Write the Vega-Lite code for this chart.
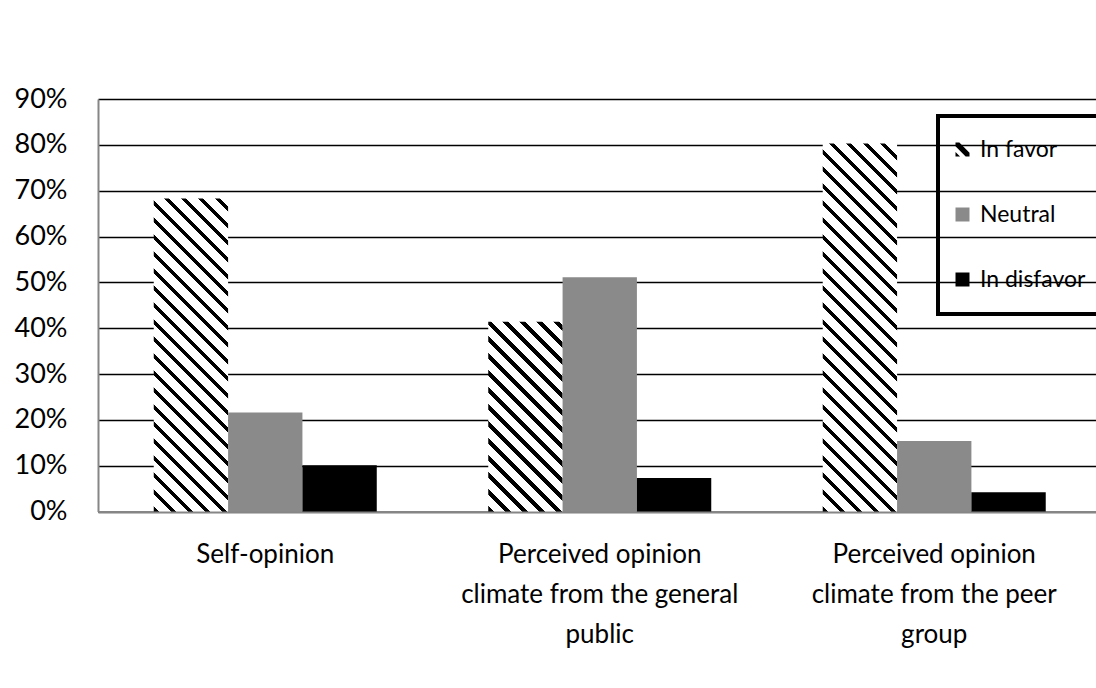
{
  "$schema": "https://vega.github.io/schema/vega-lite/v6.json",
  "autosize": {"type": "none"},
  "padding": {"left": 98, "top": 99, "right": 0, "bottom": 177},
  "width": 1003.5,
  "height": 412.5,
  "background": "white",
  "config": {"view": {"stroke": null}, "font": "Lato"},
  "data": {"values": [
    {"group": "Self-opinion", "opinion": "In favor", "share": 0.683},
    {"group": "Self-opinion", "opinion": "Neutral", "share": 0.216},
    {"group": "Self-opinion", "opinion": "In disfavor", "share": 0.101},
    {"group": "Perceived opinion climate from the general public", "opinion": "In favor", "share": 0.414},
    {"group": "Perceived opinion climate from the general public", "opinion": "Neutral", "share": 0.511},
    {"group": "Perceived opinion climate from the general public", "opinion": "In disfavor", "share": 0.073},
    {"group": "Perceived opinion climate from the peer group", "opinion": "In favor", "share": 0.803},
    {"group": "Perceived opinion climate from the peer group", "opinion": "Neutral", "share": 0.154},
    {"group": "Perceived opinion climate from the peer group", "opinion": "In disfavor", "share": 0.042}
  ]},
  "mark": {"type": "bar"},
  "encoding": {
    "x": {
      "field": "group", "type": "nominal",
      "sort": ["Self-opinion", "Perceived opinion climate from the general public", "Perceived opinion climate from the peer group"],
      "scale": {"paddingInner": 0.3333, "paddingOuter": 0.1667},
      "axis": {
        "title": null, "labelAngle": 0, "labelFontSize": 26, "labelColor": "#000",
        "labelLineHeight": 40, "labelPadding": 30, "labelLimit": 500, "ticks": false,
        "domainColor": "#868686", "domainWidth": 2,
        "labelExpr": "datum.value === 'Self-opinion' ? 'Self-opinion' : datum.value === 'Perceived opinion climate from the general public' ? ['Perceived opinion', 'climate from the general', 'public'] : ['Perceived opinion', 'climate from the peer', 'group']"
      }
    },
    "xOffset": {
      "field": "opinion", "type": "nominal",
      "sort": ["In favor", "Neutral", "In disfavor"],
      "scale": {"paddingInner": 0, "paddingOuter": 0}
    },
    "y": {
      "field": "share", "type": "quantitative",
      "scale": {"domain": [0, 0.9], "nice": false},
      "axis": {
        "title": null, "values": [0, 0.1, 0.2, 0.3, 0.4, 0.5, 0.6, 0.7, 0.8, 0.9],
        "format": ".0%", "labelFontSize": 27, "labelColor": "#000", "labelPadding": 31,
        "ticks": false, "domainColor": "#868686", "domainWidth": 2,
        "grid": true, "gridColor": "#000", "gridWidth": 1.6
      }
    },
    "fill": {
      "field": "opinion", "type": "nominal",
      "scale": {"domain": ["In favor", "Neutral", "In disfavor"], "range": ["#000000", "#8a8a8a", "#000000"]},
      "legend": {
        "title": null, "orient": "none", "legendX": 840, "legendY": 17,
        "padding": 22, "rowPadding": 41, "labelFontSize": 23, "labelColor": "#000",
        "labelOffset": 6, "symbolOffset": -9, "labelLimit": 300, "symbolType": "square", "symbolSize": 196,
        "symbolStrokeWidth": 0, "strokeColor": "#000",
        "encode": {
          "legend": {"update": {"stroke": {"value": "#000"}, "strokeWidth": {"value": 4}}},
          "symbols": {"update": {"shape": [
            {"test": "datum.value === 'In favor'", "value": "M-1,-1L-0.45,-1L1,0.45L1,1L0.45,1L-1,-0.45Z M-1,0.35L-0.35,1L-1,1Z"},
            {"value": "square"}
          ]}}
        }
      },
      "condition": [
        {"test": "datum.opinion === 'In favor' && datum.group === 'Self-opinion'",
         "value": {"gradient": "linear", "x1": 0, "y1": 1, "x2": 0.2814, "y2": -0.1822, "stops": [
          {"offset": 0, "color": "#000"}, {"offset": 0.0139, "color": "#000"}, {"offset": 0.0139, "color": "#fff"},
          {"offset": 0.0435, "color": "#fff"}, {"offset": 0.0435, "color": "#000"}, {"offset": 0.0574, "color": "#000"}, {"offset": 0.0574, "color": "#fff"},
          {"offset": 0.0870, "color": "#fff"}, {"offset": 0.0870, "color": "#000"}, {"offset": 0.1009, "color": "#000"}, {"offset": 0.1009, "color": "#fff"},
          {"offset": 0.1304, "color": "#fff"}, {"offset": 0.1304, "color": "#000"}, {"offset": 0.1443, "color": "#000"}, {"offset": 0.1443, "color": "#fff"},
          {"offset": 0.1739, "color": "#fff"}, {"offset": 0.1739, "color": "#000"}, {"offset": 0.1878, "color": "#000"}, {"offset": 0.1878, "color": "#fff"},
          {"offset": 0.2174, "color": "#fff"}, {"offset": 0.2174, "color": "#000"}, {"offset": 0.2313, "color": "#000"}, {"offset": 0.2313, "color": "#fff"},
          {"offset": 0.2609, "color": "#fff"}, {"offset": 0.2609, "color": "#000"}, {"offset": 0.2748, "color": "#000"}, {"offset": 0.2748, "color": "#fff"},
          {"offset": 0.3043, "color": "#fff"}, {"offset": 0.3043, "color": "#000"}, {"offset": 0.3182, "color": "#000"}, {"offset": 0.3182, "color": "#fff"},
          {"offset": 0.3478, "color": "#fff"}, {"offset": 0.3478, "color": "#000"}, {"offset": 0.3617, "color": "#000"}, {"offset": 0.3617, "color": "#fff"},
          {"offset": 0.3913, "color": "#fff"}, {"offset": 0.3913, "color": "#000"}, {"offset": 0.4052, "color": "#000"}, {"offset": 0.4052, "color": "#fff"},
          {"offset": 0.4348, "color": "#fff"}, {"offset": 0.4348, "color": "#000"}, {"offset": 0.4487, "color": "#000"}, {"offset": 0.4487, "color": "#fff"},
          {"offset": 0.4783, "color": "#fff"}, {"offset": 0.4783, "color": "#000"}, {"offset": 0.4922, "color": "#000"}, {"offset": 0.4922, "color": "#fff"},
          {"offset": 0.5217, "color": "#fff"}, {"offset": 0.5217, "color": "#000"}, {"offset": 0.5356, "color": "#000"}, {"offset": 0.5356, "color": "#fff"},
          {"offset": 0.5652, "color": "#fff"}, {"offset": 0.5652, "color": "#000"}, {"offset": 0.5791, "color": "#000"}, {"offset": 0.5791, "color": "#fff"},
          {"offset": 0.6087, "color": "#fff"}, {"offset": 0.6087, "color": "#000"}, {"offset": 0.6226, "color": "#000"}, {"offset": 0.6226, "color": "#fff"},
          {"offset": 0.6522, "color": "#fff"}, {"offset": 0.6522, "color": "#000"}, {"offset": 0.6661, "color": "#000"}, {"offset": 0.6661, "color": "#fff"},
          {"offset": 0.6957, "color": "#fff"}, {"offset": 0.6957, "color": "#000"}, {"offset": 0.7096, "color": "#000"}, {"offset": 0.7096, "color": "#fff"},
          {"offset": 0.7391, "color": "#fff"}, {"offset": 0.7391, "color": "#000"}, {"offset": 0.7530, "color": "#000"}, {"offset": 0.7530, "color": "#fff"},
          {"offset": 0.7826, "color": "#fff"}, {"offset": 0.7826, "color": "#000"}, {"offset": 0.7965, "color": "#000"}, {"offset": 0.7965, "color": "#fff"},
          {"offset": 0.8261, "color": "#fff"}, {"offset": 0.8261, "color": "#000"}, {"offset": 0.8400, "color": "#000"}, {"offset": 0.8400, "color": "#fff"},
          {"offset": 0.8696, "color": "#fff"}, {"offset": 0.8696, "color": "#000"}, {"offset": 0.8835, "color": "#000"}, {"offset": 0.8835, "color": "#fff"},
          {"offset": 0.9130, "color": "#fff"}, {"offset": 0.9130, "color": "#000"}, {"offset": 0.9269, "color": "#000"}, {"offset": 0.9269, "color": "#fff"},
          {"offset": 0.9565, "color": "#fff"}, {"offset": 0.9565, "color": "#000"}, {"offset": 0.9704, "color": "#000"}, {"offset": 0.9704, "color": "#fff"},
          {"offset": 1, "color": "#fff"}
         ]}},
        {"test": "datum.opinion === 'In favor' && datum.group === 'Perceived opinion climate from the general public'",
         "value": {"gradient": "linear", "x1": 0, "y1": 1, "x2": 0.4876, "y2": -0.2420, "stops": [
          {"offset": 0, "color": "#000"}, {"offset": 0.02, "color": "#000"}, {"offset": 0.02, "color": "#fff"},
          {"offset": 0.0625, "color": "#fff"}, {"offset": 0.0625, "color": "#000"}, {"offset": 0.0825, "color": "#000"}, {"offset": 0.0825, "color": "#fff"},
          {"offset": 0.125, "color": "#fff"}, {"offset": 0.125, "color": "#000"}, {"offset": 0.145, "color": "#000"}, {"offset": 0.145, "color": "#fff"},
          {"offset": 0.1875, "color": "#fff"}, {"offset": 0.1875, "color": "#000"}, {"offset": 0.2075, "color": "#000"}, {"offset": 0.2075, "color": "#fff"},
          {"offset": 0.25, "color": "#fff"}, {"offset": 0.25, "color": "#000"}, {"offset": 0.27, "color": "#000"}, {"offset": 0.27, "color": "#fff"},
          {"offset": 0.3125, "color": "#fff"}, {"offset": 0.3125, "color": "#000"}, {"offset": 0.3325, "color": "#000"}, {"offset": 0.3325, "color": "#fff"},
          {"offset": 0.375, "color": "#fff"}, {"offset": 0.375, "color": "#000"}, {"offset": 0.395, "color": "#000"}, {"offset": 0.395, "color": "#fff"},
          {"offset": 0.4375, "color": "#fff"}, {"offset": 0.4375, "color": "#000"}, {"offset": 0.4575, "color": "#000"}, {"offset": 0.4575, "color": "#fff"},
          {"offset": 0.5, "color": "#fff"}, {"offset": 0.5, "color": "#000"}, {"offset": 0.52, "color": "#000"}, {"offset": 0.52, "color": "#fff"},
          {"offset": 0.5625, "color": "#fff"}, {"offset": 0.5625, "color": "#000"}, {"offset": 0.5825, "color": "#000"}, {"offset": 0.5825, "color": "#fff"},
          {"offset": 0.625, "color": "#fff"}, {"offset": 0.625, "color": "#000"}, {"offset": 0.645, "color": "#000"}, {"offset": 0.645, "color": "#fff"},
          {"offset": 0.6875, "color": "#fff"}, {"offset": 0.6875, "color": "#000"}, {"offset": 0.7075, "color": "#000"}, {"offset": 0.7075, "color": "#fff"},
          {"offset": 0.75, "color": "#fff"}, {"offset": 0.75, "color": "#000"}, {"offset": 0.77, "color": "#000"}, {"offset": 0.77, "color": "#fff"},
          {"offset": 0.8125, "color": "#fff"}, {"offset": 0.8125, "color": "#000"}, {"offset": 0.8325, "color": "#000"}, {"offset": 0.8325, "color": "#fff"},
          {"offset": 0.875, "color": "#fff"}, {"offset": 0.875, "color": "#000"}, {"offset": 0.895, "color": "#000"}, {"offset": 0.895, "color": "#fff"},
          {"offset": 0.9375, "color": "#fff"}, {"offset": 0.9375, "color": "#000"}, {"offset": 0.9575, "color": "#000"}, {"offset": 0.9575, "color": "#fff"},
          {"offset": 1, "color": "#fff"}
         ]}},
        {"test": "datum.opinion === 'In favor' && datum.group === 'Perceived opinion climate from the peer group'",
         "value": {"gradient": "linear", "x1": 0, "y1": 1, "x2": 0.2426, "y2": -0.1982, "stops": [
          {"offset": 0, "color": "#000"}, {"offset": 0.0119, "color": "#000"}, {"offset": 0.0119, "color": "#fff"},
          {"offset": 0.0370, "color": "#fff"}, {"offset": 0.0370, "color": "#000"}, {"offset": 0.0489, "color": "#000"}, {"offset": 0.0489, "color": "#fff"},
          {"offset": 0.0741, "color": "#fff"}, {"offset": 0.0741, "color": "#000"}, {"offset": 0.0859, "color": "#000"}, {"offset": 0.0859, "color": "#fff"},
          {"offset": 0.1111, "color": "#fff"}, {"offset": 0.1111, "color": "#000"}, {"offset": 0.1230, "color": "#000"}, {"offset": 0.1230, "color": "#fff"},
          {"offset": 0.1481, "color": "#fff"}, {"offset": 0.1481, "color": "#000"}, {"offset": 0.1600, "color": "#000"}, {"offset": 0.1600, "color": "#fff"},
          {"offset": 0.1852, "color": "#fff"}, {"offset": 0.1852, "color": "#000"}, {"offset": 0.1970, "color": "#000"}, {"offset": 0.1970, "color": "#fff"},
          {"offset": 0.2222, "color": "#fff"}, {"offset": 0.2222, "color": "#000"}, {"offset": 0.2341, "color": "#000"}, {"offset": 0.2341, "color": "#fff"},
          {"offset": 0.2593, "color": "#fff"}, {"offset": 0.2593, "color": "#000"}, {"offset": 0.2711, "color": "#000"}, {"offset": 0.2711, "color": "#fff"},
          {"offset": 0.2963, "color": "#fff"}, {"offset": 0.2963, "color": "#000"}, {"offset": 0.3081, "color": "#000"}, {"offset": 0.3081, "color": "#fff"},
          {"offset": 0.3333, "color": "#fff"}, {"offset": 0.3333, "color": "#000"}, {"offset": 0.3452, "color": "#000"}, {"offset": 0.3452, "color": "#fff"},
          {"offset": 0.3704, "color": "#fff"}, {"offset": 0.3704, "color": "#000"}, {"offset": 0.3822, "color": "#000"}, {"offset": 0.3822, "color": "#fff"},
          {"offset": 0.4074, "color": "#fff"}, {"offset": 0.4074, "color": "#000"}, {"offset": 0.4193, "color": "#000"}, {"offset": 0.4193, "color": "#fff"},
          {"offset": 0.4444, "color": "#fff"}, {"offset": 0.4444, "color": "#000"}, {"offset": 0.4563, "color": "#000"}, {"offset": 0.4563, "color": "#fff"},
          {"offset": 0.4815, "color": "#fff"}, {"offset": 0.4815, "color": "#000"}, {"offset": 0.4933, "color": "#000"}, {"offset": 0.4933, "color": "#fff"},
          {"offset": 0.5185, "color": "#fff"}, {"offset": 0.5185, "color": "#000"}, {"offset": 0.5304, "color": "#000"}, {"offset": 0.5304, "color": "#fff"},
          {"offset": 0.5556, "color": "#fff"}, {"offset": 0.5556, "color": "#000"}, {"offset": 0.5674, "color": "#000"}, {"offset": 0.5674, "color": "#fff"},
          {"offset": 0.5926, "color": "#fff"}, {"offset": 0.5926, "color": "#000"}, {"offset": 0.6044, "color": "#000"}, {"offset": 0.6044, "color": "#fff"},
          {"offset": 0.6296, "color": "#fff"}, {"offset": 0.6296, "color": "#000"}, {"offset": 0.6415, "color": "#000"}, {"offset": 0.6415, "color": "#fff"},
          {"offset": 0.6667, "color": "#fff"}, {"offset": 0.6667, "color": "#000"}, {"offset": 0.6785, "color": "#000"}, {"offset": 0.6785, "color": "#fff"},
          {"offset": 0.7037, "color": "#fff"}, {"offset": 0.7037, "color": "#000"}, {"offset": 0.7156, "color": "#000"}, {"offset": 0.7156, "color": "#fff"},
          {"offset": 0.7407, "color": "#fff"}, {"offset": 0.7407, "color": "#000"}, {"offset": 0.7526, "color": "#000"}, {"offset": 0.7526, "color": "#fff"},
          {"offset": 0.7778, "color": "#fff"}, {"offset": 0.7778, "color": "#000"}, {"offset": 0.7896, "color": "#000"}, {"offset": 0.7896, "color": "#fff"},
          {"offset": 0.8148, "color": "#fff"}, {"offset": 0.8148, "color": "#000"}, {"offset": 0.8267, "color": "#000"}, {"offset": 0.8267, "color": "#fff"},
          {"offset": 0.8519, "color": "#fff"}, {"offset": 0.8519, "color": "#000"}, {"offset": 0.8637, "color": "#000"}, {"offset": 0.8637, "color": "#fff"},
          {"offset": 0.8889, "color": "#fff"}, {"offset": 0.8889, "color": "#000"}, {"offset": 0.9007, "color": "#000"}, {"offset": 0.9007, "color": "#fff"},
          {"offset": 0.9259, "color": "#fff"}, {"offset": 0.9259, "color": "#000"}, {"offset": 0.9378, "color": "#000"}, {"offset": 0.9378, "color": "#fff"},
          {"offset": 0.9630, "color": "#fff"}, {"offset": 0.9630, "color": "#000"}, {"offset": 0.9748, "color": "#000"}, {"offset": 0.9748, "color": "#fff"},
          {"offset": 1, "color": "#fff"}
         ]}}
      ]
    }
  }
}
